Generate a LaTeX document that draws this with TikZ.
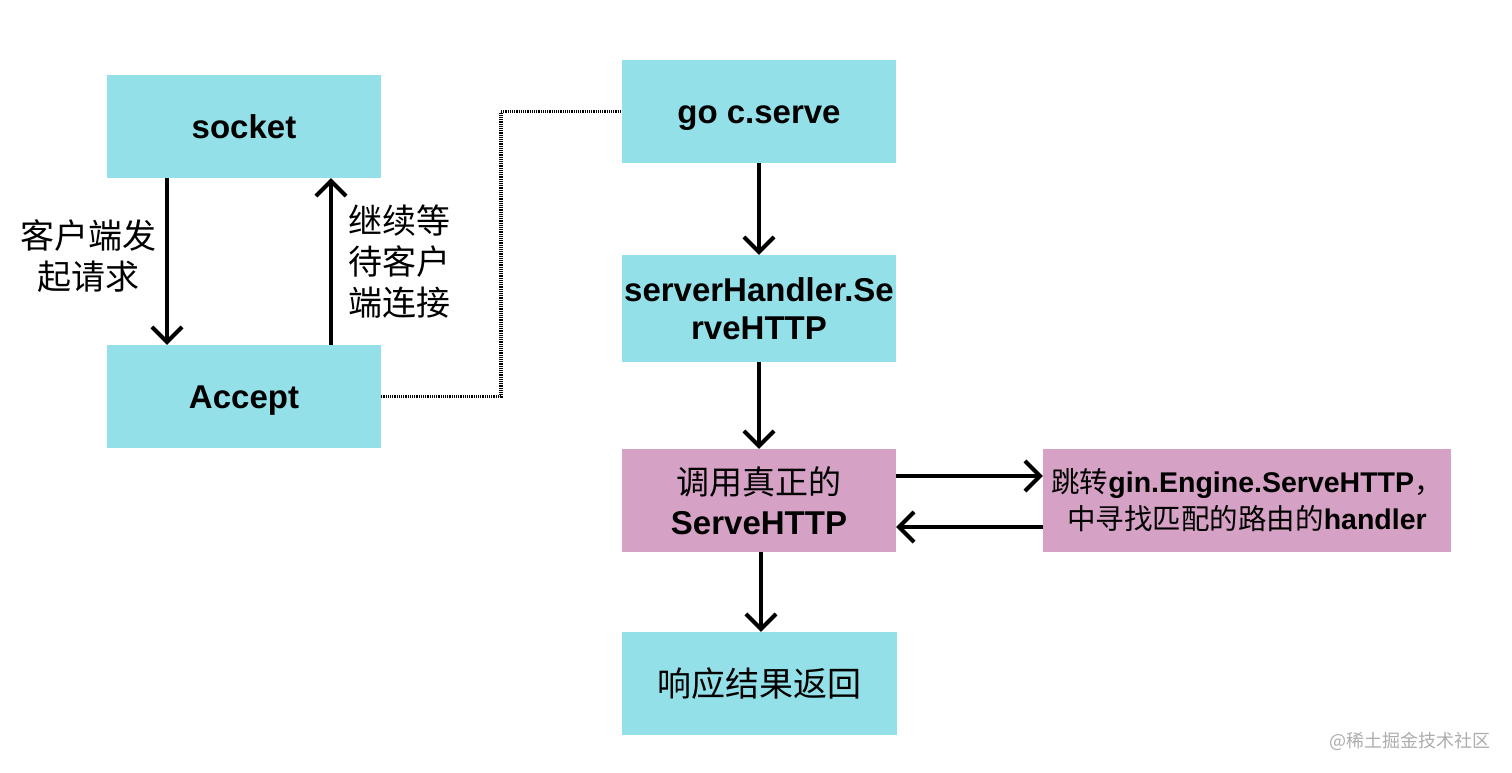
\documentclass[tikz,border=0pt]{standalone}
\usepackage{fontspec}
\setmainfont{Liberation Sans}
\newfontfamily\cjk{Noto Sans CJK SC}
\usetikzlibrary{arrows.meta}

\definecolor{boxcyan}{RGB}{148,224,232}
\definecolor{boxpink}{RGB}{213,161,196}

\tikzset{
  box/.style={fill=boxcyan, minimum width=274pt, minimum height=103pt, inner sep=0pt, align=center, font=\fontsize{33}{38}\selectfont},
  oneline/.style={text height=23.6pt, text depth=0pt},
  callbox/.style={box, fill=boxpink},
  flow/.style={-{Straight Barb[length=15pt,width=30pt]}, line width=4pt},
  link/.style={line width=3.5pt, dash pattern=on 1.2pt off 1pt},
  note/.style={font=\fontsize{34}{41}\selectfont\cjk},
}

\begin{document}
\begin{tikzpicture}[x=1pt,y=-1pt]
  \useasboundingbox[fill=white] (0,0) rectangle (1512,772);

  % boxes
  \node[box, oneline] (socket) at (244,126.5) {\textbf{socket}};
  \node[box, oneline] (accept) at (244,396.5) {\textbf{Accept}};
  \node[box, oneline] (serve) at (759,111.5) {\textbf{go c.serve}};
  \node[box, minimum height=107pt] (handler) at (759,308.5) {\textbf{serverHandler.Se}\\\textbf{rveHTTP}};
  \node[callbox, font=\fontsize{33}{40}\selectfont] (call) at (759,500.5) {{\cjk 调用真正的}\\\textbf{ServeHTTP}};
  \node[callbox, minimum width=408pt, font=\fontsize{28.5}{37}\selectfont] (engine) at (1247,500.5) {{\cjk 跳转}\textbf{gin.Engine.ServeHTTP}{\cjk ，}\\{\cjk 中寻找匹配的路由的}\textbf{handler}};
  \node[box, minimum width=275pt, font=\fontsize{34}{38}\selectfont\cjk] (result) at (759.5,683.5) {响应结果返回};

  % labels
  \node[note, align=center] (request) at (88,256) {客户端发\\起请求};
  \node[note, align=left, anchor=west] (wait) at (345,262) {继续等\\待客户\\端连接};

  % socket loop
  \draw[flow] ([xshift=-77pt]socket.south) -- ([xshift=-77pt]accept.north);
  \draw[flow] ([xshift=87pt]accept.north) -- ([xshift=87pt]socket.south);

  % accept to serve
  \coordinate (bend) at (501,111.5);
  \draw[link] (accept.east) -- (accept.east -| bend) -- (bend) -- (serve.west);

  % serve flow
  \draw[flow] (serve.south) -- (handler.north);
  \draw[flow] (handler.south) -- (call.north);
  \draw[flow] ([xshift=2pt]call.south) -- ([xshift=1.5pt]result.north);

  % call engine
  \draw[flow] ([yshift=24.5pt]call.east) -- ([yshift=24.5pt]engine.west);
  \draw[flow] ([yshift=-26.5pt]engine.west) -- ([yshift=-26.5pt]call.east);

  % watermark
  \node[font=\fontsize{18}{20}\selectfont\cjk, text=black!32] (mark) at (1410,741) {@稀土掘金技术社区};
\end{tikzpicture}
\end{document}
